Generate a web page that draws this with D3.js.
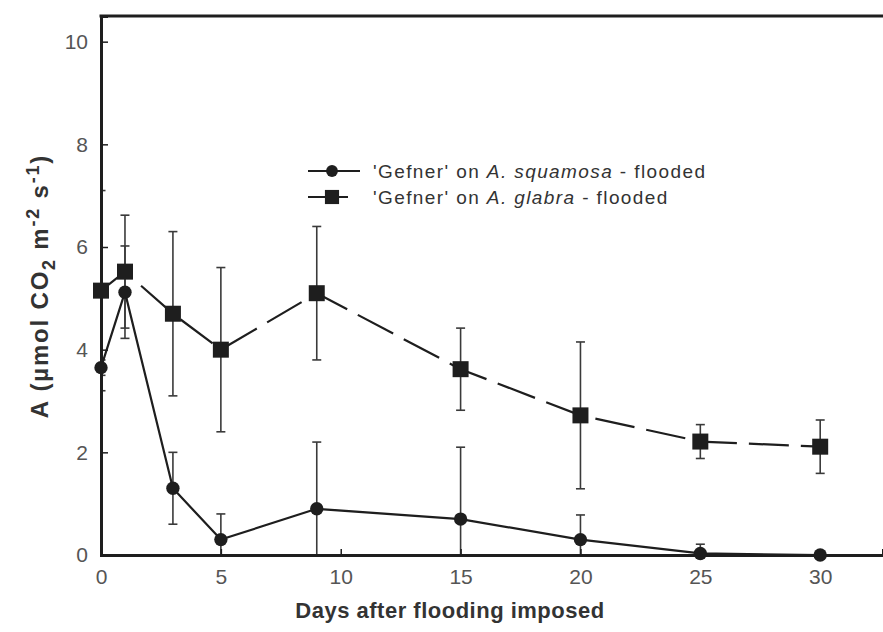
<!DOCTYPE html>
<html>
<head>
<meta charset="utf-8">
<script src="https://cdn.jsdelivr.net/npm/d3@7"></script>
<style>
  body { margin: 0; background: #fff; }
  svg { font-family: "Liberation Sans", Arial, sans-serif; }
</style>
</head>
<body>
<div id="chart"></div>
<script>
// chart size
const width = 883;
const height = 632;

// data
const days = [0, 1, 3, 5, 9, 15, 20, 25, 30];
const squamosaMean = [3.65, 5.12, 1.3, 0.3, 0.9, 0.7, 0.3, 0.03, 0.0];
const squamosaErr  = [0.15, 0.9, 0.7, 0.5, 1.3, 1.4, 0.48, 0.18, 0];
const glabraMean   = [5.15, 5.52, 4.7, 4.0, 5.1, 3.62, 2.72, 2.21, 2.11];
const glabraErr    = [1.95, 1.1, 1.6, 1.6, 1.3, 0.8, 1.43, 0.33, 0.52];
const xTicks = [0, 5, 10, 15, 20, 25, 30];
const yTicks = [0, 2, 4, 6, 8, 10];

const ink = "#1e1e1e";

const svg = d3.select("#chart")
  .append("svg")
  .attr("width", width)
  .attr("height", height);

const x = d3.scaleLinear().domain([0, 32.62]).range([101, 883]);
const y = d3.scaleLinear().domain([0, 10.5]).range([555, 16]);

// clip for the error bars
svg.append("clipPath").attr("id", "plotclip")
  .append("rect")
  .attr("x", x.range()[0]).attr("y", y.range()[1])
  .attr("width", x.range()[1] - x.range()[0])
  .attr("height", y.range()[0] - y.range()[1]);

const squamosa = days.map((d, i) => ({ day: d, v: squamosaMean[i], e: squamosaErr[i] }));
const glabra = days.map((d, i) => ({ day: d, v: glabraMean[i], e: glabraErr[i] }));

// error bars
function errorBars(data) {
  const g = svg.append("g")
    .attr("clip-path", "url(#plotclip)")
    .attr("stroke", "#3a3a3a")
    .attr("stroke-width", 1.6);
  data.filter(d => d.e > 0).forEach(d => {
    const cx = x(d.day);
    g.append("line").attr("x1", cx).attr("x2", cx)
      .attr("y1", y(d.v - d.e)).attr("y2", y(d.v + d.e));
    [d.v - d.e, d.v + d.e].forEach(v => {
      g.append("line").attr("x1", cx - 4.5).attr("x2", cx + 4.5)
        .attr("y1", y(v)).attr("y2", y(v));
    });
  });
}
errorBars(glabra);
errorBars(squamosa);

const line = d3.line().x(d => x(d.day)).y(d => y(d.v));

svg.append("path")
  .datum(glabra)
  .attr("d", line)
  .attr("fill", "none")
  .attr("stroke", ink)
  .attr("stroke-width", 2.2)
  .attr("stroke-dasharray", "40,12");

svg.append("path")
  .datum(squamosa)
  .attr("d", line)
  .attr("fill", "none")
  .attr("stroke", ink)
  .attr("stroke-width", 2.2);

// axes (ticks pointing inward)
const xAxis = svg.append("g")
  .attr("transform", `translate(0,${y(0)})`)
  .call(d3.axisBottom(x).tickValues(xTicks).tickSize(-6).tickPadding(14));
const yAxis = svg.append("g")
  .attr("transform", `translate(${x(0)},0)`)
  .call(d3.axisLeft(y).tickValues(yTicks).tickSize(-7).tickPadding(13));

[xAxis, yAxis].forEach(a => {
  a.select(".domain").attr("stroke", ink).attr("stroke-width", 3);
  a.selectAll(".tick line").attr("stroke", ink).attr("stroke-width", 1.5);
  a.selectAll(".tick text")
    .attr("fill", "#555")
    .style("font-size", "21px")
    .style("font-family", "'Liberation Sans', Arial, sans-serif");
});

// top frame line
svg.append("line")
  .attr("x1", x(0) - 1.5).attr("x2", width)
  .attr("y1", y.range()[1]).attr("y2", y.range()[1])
  .attr("stroke", ink).attr("stroke-width", 3);

// markers
const circleSym = d3.symbol().type(d3.symbolCircle).size(140);
const squareSym = d3.symbol().type(d3.symbolSquare).size(256);

svg.selectAll(".sq")
  .data(glabra)
  .enter()
  .append("path")
  .attr("class", "sq")
  .attr("transform", d => `translate(${x(d.day)},${y(d.v)})`)
  .attr("d", squareSym)
  .attr("fill", ink);

svg.selectAll(".ci")
  .data(squamosa)
  .enter()
  .append("path")
  .attr("class", "ci")
  .attr("transform", d => `translate(${x(d.day)},${y(d.v)})`)
  .attr("d", circleSym)
  .attr("fill", ink);

// legend
const legend = svg.append("g");
const legendRows = [
  { y: 171, square: false, pre: "'Gefner' on ", sp: "A. squamosa", post: " - flooded", x2: 360 },
  { y: 197, square: true, pre: "'Gefner' on ", sp: "A. glabra", post: " - flooded", x2: 348 }
];
legendRows.forEach(r => {
  legend.append("line")
    .attr("x1", 308).attr("x2", r.x2)
    .attr("y1", r.y).attr("y2", r.y)
    .attr("stroke", ink).attr("stroke-width", 2.2);
  legend.append("path")
    .attr("transform", `translate(332,${r.y})`)
    .attr("d", r.square ? d3.symbol().type(d3.symbolSquare).size(200)() : d3.symbol().type(d3.symbolCircle).size(110)())
    .attr("fill", ink);
  const t = legend.append("text")
    .attr("x", 373).attr("y", r.y + 7)
    .attr("fill", "#333")
    .style("font-size", "19px")
    .style("letter-spacing", "1.4px");
  t.append("tspan").text(r.pre);
  t.append("tspan").style("font-style", "italic").text(r.sp);
  t.append("tspan").text(r.post);
});

// axis titles
svg.append("text")
  .attr("x", 450).attr("y", 618)
  .attr("text-anchor", "middle")
  .attr("fill", "#333")
  .style("font-size", "22px")
  .style("font-weight", "bold")
  .style("letter-spacing", "0.5px")
  .text("Days after flooding imposed");

const yTitle = svg.append("text")
  .attr("transform", "translate(48,286) rotate(-90)")
  .attr("text-anchor", "middle")
  .attr("fill", "#333")
  .style("font-size", "24px")
  .style("font-weight", "bold")
  .style("letter-spacing", "1.8px");
yTitle.append("tspan").text("A (\u00b5mol CO");
yTitle.append("tspan").attr("dy", 7).style("font-size", "18px").text("2");
yTitle.append("tspan").attr("dy", -7).text(" m");
yTitle.append("tspan").attr("dy", -9).style("font-size", "18px").text("-2");
yTitle.append("tspan").attr("dy", 9).text(" s");
yTitle.append("tspan").attr("dy", -9).style("font-size", "18px").text("-1");
yTitle.append("tspan").attr("dy", 9).text(")");
</script>
</body>
</html>
